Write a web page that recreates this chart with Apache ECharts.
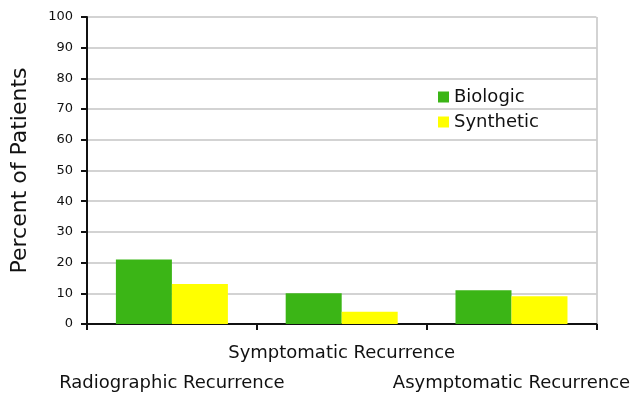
<!DOCTYPE html>
<html>
<head>
<meta charset="utf-8">
<script src="https://cdn.jsdelivr.net/npm/echarts@6/dist/echarts.min.js"></script>
<style>
  html, body { margin: 0; padding: 0; background: #fff; }
  #chart { width: 633px; height: 395px; }
</style>
</head>
<body>
<div id="chart"></div>
<script>
// Recurrence outcomes by mesh type
const categories = ['Radiographic Recurrence', 'Symptomatic Recurrence', 'Asymptomatic Recurrence'];
const biologic = [21, 10, 11];
const synthetic = [13, 4, 9];
const seriesNames = ['Biologic', 'Synthetic'];
const yTicks = { min: 0, max: 100, interval: 10 };

const font = 'DejaVu Sans';
const chart = echarts.init(document.getElementById('chart'));

chart.setOption({
  animation: false,
  backgroundColor: '#ffffff',
  textStyle: { fontFamily: font, color: '#111' },
  grid: { left: 87, right: 36, top: 17, bottom: 71 },
  legend: {
    orient: 'vertical',
    left: 433,
    top: 83,
    itemWidth: 11,
    itemHeight: 11,
    itemGap: 7,
    icon: 'rect',
    textStyle: { fontFamily: font, fontSize: 18, color: '#111' },
    data: seriesNames
  },
  xAxis: {
    type: 'category',
    data: categories,
    axisLine: { show: true, lineStyle: { color: '#111', width: 2 } },
    axisTick: { show: true, length: 6, alignWithLabel: false, lineStyle: { color: '#111', width: 2 } },
    axisLabel: {
      interval: 0,
      margin: 19,
      hideOverlap: false,
      // alternate labels are dropped to a second row so they do not collide
      formatter: function (v, i) {
        return i === 1 ? '{row|' + v + '}' : '{sp| }\n{row|' + v + '}';
      },
      rich: {
        row: { fontFamily: font, fontSize: 18, lineHeight: 20, color: '#111' },
        sp: { fontSize: 10, lineHeight: 30 }
      }
    },
    splitLine: { show: false }
  },
  yAxis: {
    type: 'value',
    min: yTicks.min,
    max: yTicks.max,
    interval: yTicks.interval,
    name: 'Percent of Patients',
    nameLocation: 'middle',
    nameGap: 56,
    nameTextStyle: { fontFamily: font, fontSize: 22, color: '#111' },
    axisLine: { show: true, lineStyle: { color: '#111', width: 2 } },
    axisTick: { show: true, length: 6, lineStyle: { color: '#111', width: 2 } },
    axisLabel: { fontFamily: font, fontSize: 13, color: '#111', margin: 14 },
    splitLine: { show: true, lineStyle: { color: '#c4c4c4', width: 1.5 } }
  },
  series: [
    {
      name: seriesNames[0],
      type: 'bar',
      data: biologic,
      barWidth: 56,
      barGap: '0%',
      itemStyle: { color: '#3bb516' }
    },
    {
      name: seriesNames[1],
      type: 'bar',
      data: synthetic,
      barWidth: 56,
      barGap: '0%',
      itemStyle: { color: '#ffff00' }
    }
  ],
  // right-hand frame edge of the plot area
  graphic: [{
    type: 'line',
    shape: { x1: 597, y1: 17, x2: 597, y2: 324 },
    style: { stroke: '#c4c4c4', lineWidth: 1.5 },
    z: 0
  }]
});
</script>
</body>
</html>
